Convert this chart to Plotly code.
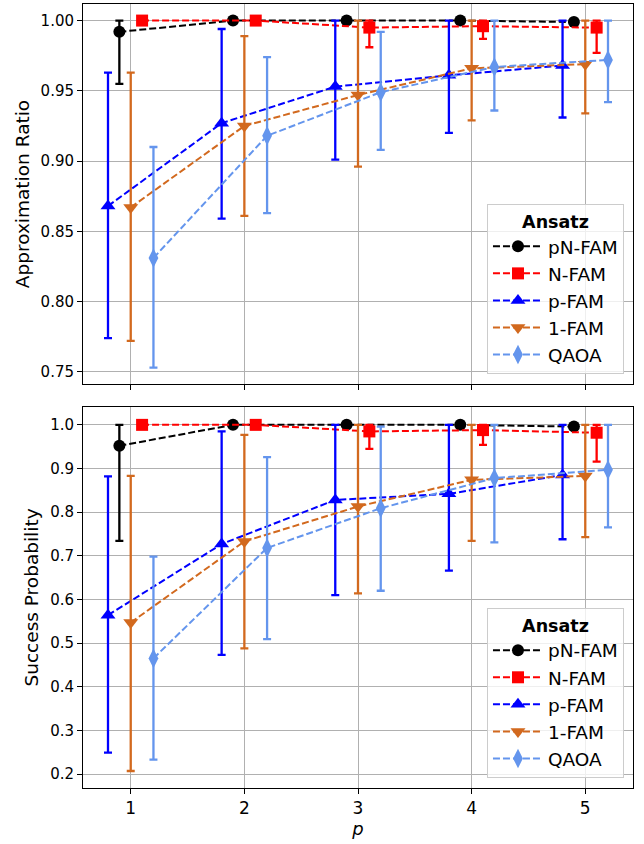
import plotly.graph_objects as go

# ---------------- data ----------------
p_values = [1, 2, 3, 4, 5]
series_names = ["pN-FAM", "N-FAM", "p-FAM", "1-FAM", "QAOA"]
x_offsets = [-0.1, 0.1, -0.2, 0.0, 0.2]
colors = ["#000000", "#ff0000", "#0000ff", "#d2691e", "#6495ed"]
symbols = ["circle", "square", "triangle-up", "triangle-down", "diamond-tall"]
marker_sizes = [12, 12, 13, 13, 14]

# Approximation ratio: mean, lower end, upper end of error bar
ar_mean = {
    "pN-FAM": [0.992, 1.000, 1.000, 1.000, 0.999],
    "N-FAM":  [1.000, 1.000, 0.995, 0.996, 0.995],
    "p-FAM":  [0.868, 0.927, 0.953, 0.961, 0.968],
    "1-FAM":  [0.867, 0.925, 0.947, 0.966, 0.969],
    "QAOA":   [0.831, 0.918, 0.949, 0.967, 0.972],
}
ar_low = {
    "pN-FAM": [0.955, 1.000, 1.000, 1.000, 0.999],
    "N-FAM":  [1.000, 1.000, 0.981, 0.987, 0.977],
    "p-FAM":  [0.774, 0.859, 0.901, 0.920, 0.931],
    "1-FAM":  [0.772, 0.861, 0.896, 0.929, 0.934],
    "QAOA":   [0.753, 0.863, 0.908, 0.936, 0.942],
}
ar_high = {
    "pN-FAM": [1.000, 1.000, 1.000, 1.000, 1.000],
    "N-FAM":  [1.000, 1.000, 1.000, 1.000, 1.000],
    "p-FAM":  [0.963, 0.994, 1.000, 1.000, 1.000],
    "1-FAM":  [0.963, 0.989, 1.000, 1.000, 1.000],
    "QAOA":   [0.910, 0.974, 0.992, 1.000, 1.000],
}

# Success probability
sp_mean = {
    "pN-FAM": [0.952, 1.000, 1.000, 1.000, 0.996],
    "N-FAM":  [1.000, 1.000, 0.985, 0.988, 0.982],
    "p-FAM":  [0.564, 0.727, 0.828, 0.842, 0.885],
    "1-FAM":  [0.547, 0.733, 0.813, 0.874, 0.883],
    "QAOA":   [0.465, 0.718, 0.809, 0.878, 0.897],
}
sp_low = {
    "pN-FAM": [0.734, 1.000, 1.000, 1.000, 0.996],
    "N-FAM":  [1.000, 1.000, 0.945, 0.954, 0.916],
    "p-FAM":  [0.249, 0.473, 0.610, 0.666, 0.738],
    "1-FAM":  [0.207, 0.488, 0.614, 0.734, 0.743],
    "QAOA":   [0.233, 0.509, 0.620, 0.731, 0.765],
}
sp_high = {
    "pN-FAM": [1.000, 1.000, 1.000, 1.000, 1.000],
    "N-FAM":  [1.000, 1.000, 1.000, 1.000, 1.000],
    "p-FAM":  [0.882, 0.985, 1.000, 1.000, 1.000],
    "1-FAM":  [0.883, 0.977, 1.000, 1.000, 1.000],
    "QAOA":   [0.698, 0.926, 0.996, 1.000, 1.000],
}

x_tick_labels = ["1", "2", "3", "4", "5"]

# ---------------- figure ----------------
FONT = "DejaVu Sans"
fig = go.Figure()


def add_panel(mean, low, high, xa, ya, legend_name):
    for name, off, col, sym, ms in zip(series_names, x_offsets, colors, symbols, marker_sizes):
        m = mean[name]
        xs = [p + off for p in p_values]
        plus = [h - v for h, v in zip(high[name], m)]
        minus = [v - l for v, l in zip(m, low[name])]
        fig.add_trace(go.Scatter(
            x=xs, y=m, name=name, mode="lines+markers",
            xaxis=xa, yaxis=ya, legend=legend_name,
            line=dict(color=col, width=2, dash="7px,3px"),
            marker=dict(color=col, symbol=sym, size=ms, line=dict(width=0)),
            error_y=dict(type="data", symmetric=False, array=plus, arrayminus=minus,
                         color=col, thickness=2.3, width=4),
        ))


add_panel(ar_mean, ar_low, ar_high, "x", "y", "legend")
add_panel(sp_mean, sp_low, sp_high, "x2", "y2", "legend2")

axis_common = dict(
    showline=True, linecolor="black", linewidth=1, mirror=True,
    showgrid=True, gridcolor="#b0b0b0", gridwidth=0.8,
    ticks="outside", ticklen=5, tickwidth=1, tickcolor="black",
    zeroline=False,
)

legend_common = dict(
    x=0.9836, xanchor="right", yanchor="bottom",
    bgcolor="rgba(255,255,255,0.8)", bordercolor="#cccccc", borderwidth=1,
    font=dict(size=18.5, family=FONT),
    title=dict(text="<b>Ansatz</b>", side="top center", font=dict(size=17.5)),
    tracegroupgap=0, itemwidth=50,
)

xr = [0.58, 5.42]
fig.update_layout(
    width=644, height=844,
    margin=dict(l=83, r=11, t=4, b=56, autoexpand=False),
    paper_bgcolor="white", plot_bgcolor="white",
    font=dict(family=FONT, color="black"),
    xaxis=dict(domain=[0, 1], anchor="y", range=xr, tickvals=p_values,
               ticktext=x_tick_labels, showticklabels=False, **axis_common),
    yaxis=dict(domain=[0.5153, 1], anchor="x", range=[0.7413, 1.0118],
               dtick=0.05, tick0=0.75, tickformat=".2f",
               tickfont=dict(size=15),
               title=dict(text="Approximation Ratio", font=dict(size=18.5), standoff=6),
               **axis_common),
    xaxis2=dict(domain=[0, 1], anchor="y2", range=xr, tickvals=p_values,
                ticktext=x_tick_labels, tickfont=dict(size=17),
                title=dict(text="<i>p</i>", font=dict(size=18), standoff=4),
                **axis_common),
    yaxis2=dict(domain=[0, 0.486], anchor="x2", range=[0.168, 1.041],
                dtick=0.1, tick0=0.2, tickformat=".1f",
                tickfont=dict(size=15),
                title=dict(text="Success Probability", font=dict(size=18.5), standoff=6),
                **axis_common),
    legend=dict(y=0.528, **legend_common),
    legend2=dict(y=0.0128, **legend_common),
    showlegend=True,
)

fig.write_html("out.html")
